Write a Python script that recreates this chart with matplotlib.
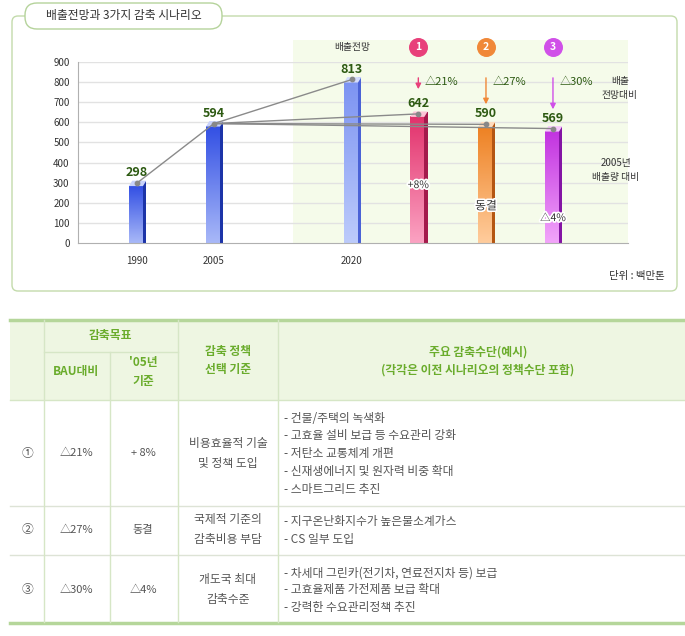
import numpy as np
import matplotlib.pyplot as plt
from matplotlib.patches import Rectangle, FancyBboxPatch, Polygon
from matplotlib.colors import LinearSegmentedColormap
import matplotlib.patheffects as pe

plt.rcParams['font.family'] = ['Noto Sans CJK KR', 'DejaVu Sans']

# chart data
labels = ['1990', '2005', '2020', '', '', '']
values = [298, 594, 813, 642, 590, 569]
scen_no = ['1', '2', '3']
bau_cut = ['△21%', '△27%', '△30%']
vs2005 = ['+8%', '동결', '△4%']

# table data
rows_no = ['①', '②', '③']
rows_bau = ['△21%', '△27%', '△30%']
rows_05 = ['+ 8%', '동결', '△4%']
rows_basis = ['비용효율적 기술\n및 정책 도입', '국제적 기준의\n감축비용 부담', '개도국 최대\n감축수준']
rows_means = [
    ['- 건물/주택의 녹색화', '- 고효율 설비 보급 등 수요관리 강화', '- 저탄소 교통체계 개편',
     '- 신재생에너지 및 원자력 비중 확대', '- 스마트그리드 추진'],
    ['- 지구온난화지수가 높은불소계가스', '- CS 일부 도입'],
    ['- 차세대 그린카(전기차, 연료전지차 등) 보급', '- 고효율제품 가전제품 보급 확대',
     '- 강력한 수요관리정책 추진'],
]

# layout / style
xpos = [0.88, 2.03, 4.09, 5.08, 6.09, 7.09]
top_c = ['#3350e4', '#3350e4', '#7d94f2', '#e2326c', '#ee8224', '#c234e0']
bot_c = ['#a8b8f8', '#a8b8f8', '#bccbfb', '#fba2c2', '#ffcc9c', '#f2a4fa']
side_c = ['#1c34a8', '#1c34a8', '#4a62d6', '#a41a4c', '#b45612', '#8414a4']
cap_c = ['#c8d2fb', '#c8d2fb', '#d4dcfc', '#fcc4d6', '#ffdcbc', '#f4c8fb']
mark_c = ['#e8407a', '#f08838', '#d050e8']

fig = plt.figure(figsize=(6.85, 6.36), dpi=100)

ov = fig.add_axes([0, 0, 1, 1], zorder=0)
ov.set_xlim(0, 685)
ov.set_ylim(636, 0)
ov.axis('off')

# outer panel and title box
ov.add_patch(FancyBboxPatch((12, 16), 665, 275, boxstyle='round,pad=0,rounding_size=6',
                            fc='white', ec='#c3dbab', lw=1))
ov.add_patch(FancyBboxPatch((25, 3), 197, 26, boxstyle='round,pad=0,rounding_size=12',
                            fc='white', ec='#b5d39b', lw=1))
ov.text(124, 16, '배출전망과 3가지 감축 시나리오', ha='center', va='center', fontsize=8.5, color='#333333')
ov.text(665, 276, '단위 : 백만톤', ha='right', va='center', fontsize=7.5, color='#333333')

# chart
ax = fig.add_axes([78 / 685, 1 - 243 / 636, 550 / 685, 181 / 636], zorder=1)
ax.patch.set_alpha(0)
ax.set_xlim(0, 8.21)
ax.set_ylim(0, 900)

ax.add_patch(Rectangle((3.21, 0), 5.0, 1009, fc='#f5fbea', ec='none', zorder=0, clip_on=False))
for g in range(100, 1000, 100):
    ax.axhline(g, color='#e2e2e2', lw=1, zorder=1)

grad = np.linspace(0, 1, 64).reshape(-1, 1)
fw, sw = 0.21, 0.05
for i, v in enumerate(values):
    x0 = xpos[i] - 0.12
    x1 = x0 + fw
    cm = LinearSegmentedColormap.from_list('b%d' % i, [bot_c[i], top_c[i]])
    ax.imshow(grad, extent=[x0, x1, 0, v - 15], cmap=cm, aspect='auto', origin='lower', zorder=2)
    ax.add_patch(Rectangle((x1, 0), sw, v + 10, fc=side_c[i], ec='none', zorder=2))
    ax.add_patch(Polygon([(x0, v - 15), (x1, v - 15), (x1 + sw, v + 12), (x0 + sw, v + 12)],
                         closed=True, fc=cap_c[i], ec='none', zorder=3))
    ax.text(xpos[i], v + 52, str(v), ha='center', va='center', fontsize=9, fontweight='bold',
            color='#2d5a12', zorder=6)

ax.plot(xpos[:3], values[:3], color='#8a8a8a', lw=1, zorder=4)
for k in range(3, 6):
    ax.plot([xpos[1], xpos[k]], [values[1], values[k]], color='#8a8a8a', lw=1, zorder=4)
ax.scatter(xpos, values, s=10, color='#888888', zorder=5)

ax.set_xlim(0, 8.21)
ax.set_ylim(0, 900)
ax.set_yticks(range(0, 1000, 100))
ax.set_xticks(xpos[:3])
ax.set_xticklabels(labels[:3])
ax.tick_params(axis='both', length=0, labelsize=7, colors='#333333')
ax.tick_params(axis='x', pad=9)
ax.tick_params(axis='y', pad=6)
for s in ['top', 'right']:
    ax.spines[s].set_visible(False)
for s in ['left', 'bottom']:
    ax.spines[s].set_color('#b0b0b0')

ax.text(xpos[2], 975, '배출전망', ha='center', va='center', fontsize=7, color='#333333', clip_on=False)
arrow_end = [751, 676, 651]
stroke = [pe.withStroke(linewidth=2.5, foreground='white')]
inner_y = [288, 184, 124]
for j in range(3):
    xc = xpos[3 + j]
    ax.scatter([xc], [975], s=160, color=mark_c[j], clip_on=False, zorder=6)
    ax.text(xc, 975, scen_no[j], ha='center', va='center', fontsize=7.5, fontweight='bold',
            color='white', zorder=7, clip_on=False)
    ax.annotate('', xy=(xc, arrow_end[j]), xytext=(xc, 835),
                arrowprops=dict(arrowstyle='-|>', color=mark_c[j], lw=1, mutation_scale=8), zorder=6)
    ax.text(xc + 0.1, 800, bau_cut[j], ha='left', va='center', fontsize=8, color='#2d5a12', zorder=6)
    ax.text(xc, inner_y[j], vs2005[j], ha='center', va='center', fontsize=8.5 if j == 1 else 7.5,
            color='#333333', path_effects=stroke, zorder=7)

ax.text(8.09, 771, '배출\n전망대비', ha='center', va='center', fontsize=7, color='#333333',
        linespacing=1.4, clip_on=False)
ax.text(8.03, 363, '2005년\n배출량 대비', ha='center', va='center', fontsize=7, color='#333333',
        linespacing=1.4, clip_on=False)

# table
line_c = '#d6e6c6'
ov.add_patch(Rectangle((10, 320), 675, 80, fc='#eef6e2', ec='none'))
ov.plot([10, 685], [320, 320], color='#b5d69a', lw=2.5)
ov.plot([10, 685], [623, 623], color='#b5d69a', lw=2.5)
ov.plot([10, 685], [400, 400], color=line_c, lw=1)
ov.plot([44, 178], [352, 352], color=line_c, lw=1)
for yy in [506, 555]:
    ov.plot([10, 685], [yy, yy], color='#dde3d6', lw=1)
for xx, y0 in [(44, 320), (110, 352), (178, 320), (278, 320)]:
    ov.plot([xx, xx], [y0, 622], color=line_c, lw=1)

hc = '#6aac2c'
ov.text(110, 336, '감축목표', ha='center', va='center', fontsize=8.5, fontweight='bold', color=hc)
ov.text(76, 371, 'BAU대비', ha='center', va='center', fontsize=8.5, fontweight='bold', color=hc)
ov.text(143, 372, "'05년\n기준", ha='center', va='center', fontsize=8.5, fontweight='bold', color=hc,
        linespacing=1.6)
ov.text(228, 361, '감축 정책\n선택 기준', ha='center', va='center', fontsize=8.5, fontweight='bold',
        color=hc, linespacing=1.5)
ov.text(478, 361, '주요 감축수단(예시)\n(각각은 이전 시나리오의 정책수단 포함)', ha='center', va='center',
        fontsize=8.5, fontweight='bold', color=hc, linespacing=1.5)

row_cy = [453, 530, 590]
means_y = [[418, 436, 454, 472, 490], [521, 540], [573, 590, 607]]
tc = '#555555'
for r in range(3):
    cy = row_cy[r]
    ov.text(28, cy, rows_no[r], ha='center', va='center', fontsize=8.5, color=tc)
    ov.text(76, cy, rows_bau[r], ha='center', va='center', fontsize=8, color=tc)
    ov.text(143, cy, rows_05[r], ha='center', va='center', fontsize=8, color=tc)
    ov.text(228, cy, rows_basis[r], ha='center', va='center', fontsize=8.5, color=tc, linespacing=1.7)
    for line, yy in zip(rows_means[r], means_y[r]):
        ov.text(284, yy, line, ha='left', va='center', fontsize=8.5, color=tc)

fig.savefig('out.png', dpi=100)
